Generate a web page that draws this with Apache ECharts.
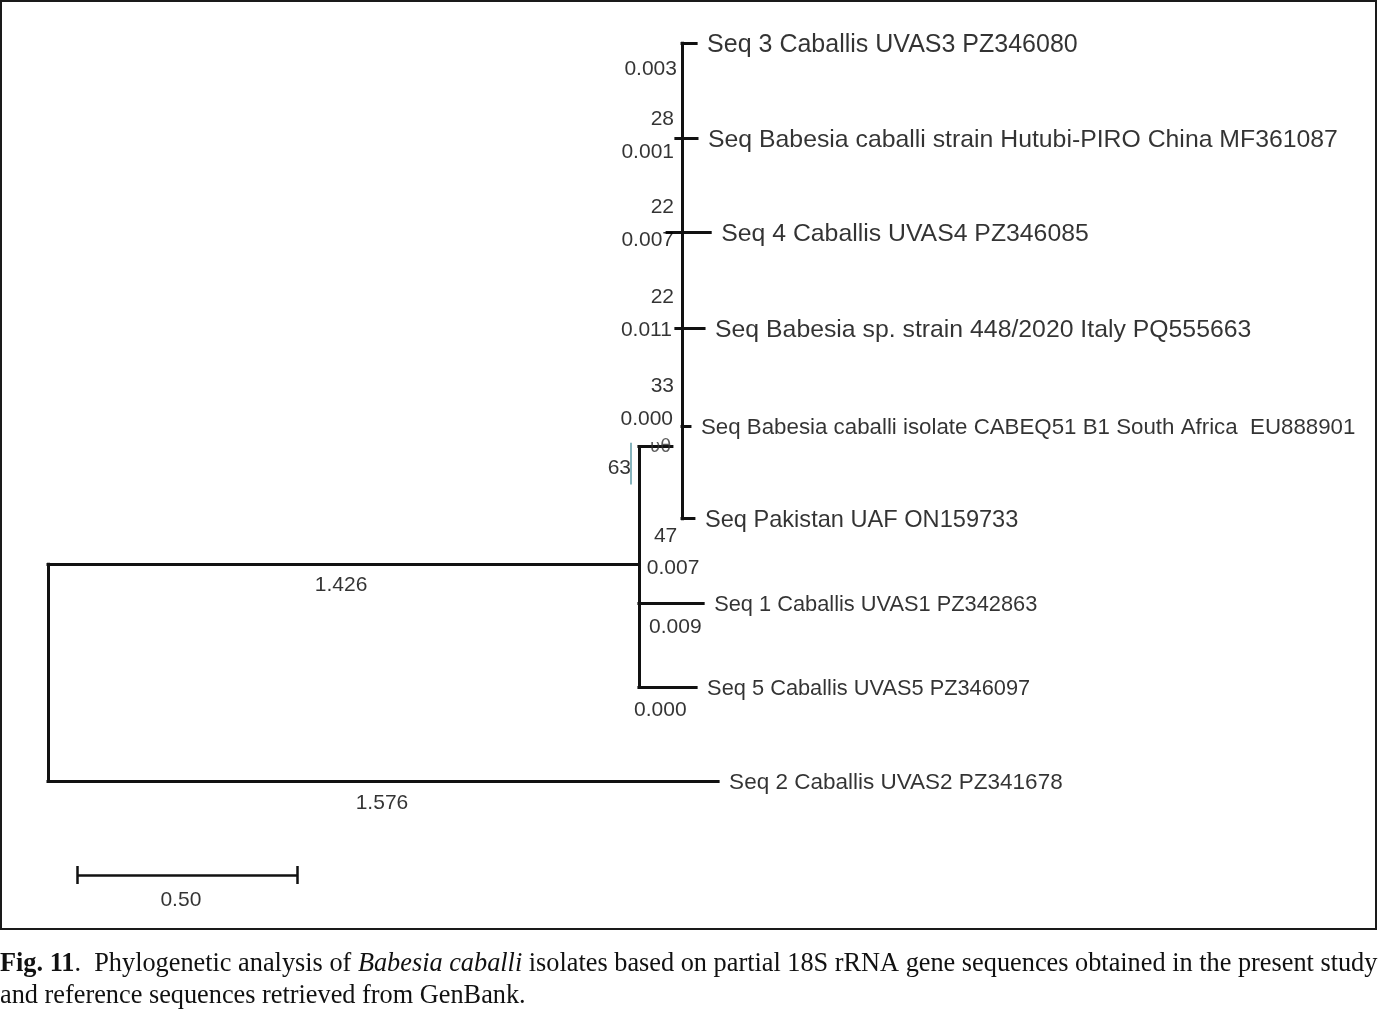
<!DOCTYPE html>
<html><head><meta charset="utf-8">
<script src="https://cdn.jsdelivr.net/npm/echarts@6/dist/echarts.min.js"></script>
<style>html,body{margin:0;padding:0;background:#fff}#c{width:1378px;height:1013px}</style>
</head><body><div id="c"></div>
<script>
// ---- Leaves (top to bottom) ----
const leafNames = [
  'Seq 3 Caballis UVAS3 PZ346080',
  'Seq Babesia caballi strain Hutubi-PIRO China MF361087',
  'Seq 4 Caballis UVAS4 PZ346085',
  'Seq Babesia sp. strain 448/2020 Italy PQ555663',
  'Seq Babesia caballi isolate CABEQ51 B1 South Africa  EU888901',
  'Seq Pakistan UAF ON159733',
  'Seq 1 Caballis UVAS1 PZ342863',
  'Seq 5 Caballis UVAS5 PZ346097',
  'Seq 2 Caballis UVAS2 PZ341678'
];
// drawn row of each leaf
const leafRow = [0, 1.0, 2.0, 3.01, 4.04, 5.02, 5.91, 6.80, 7.79];
// drawn depth (distance units) where each leaf branch starts / ends
const leafStartX = [1.441, 1.427, 1.407, 1.427, 1.441, 1.441, 1.343, 1.343, 0];
const leafEndX   = [1.473, 1.475, 1.505, 1.491, 1.459, 1.468, 1.489, 1.473, 1.523];

// ---- Internal nodes: root, ingroup, clade (63) ----
const nodeX       = [0, 1.343, 1.441];
const nodeRowFrom = [5.50, 4.26, 0];
const nodeRowTo   = [7.79, 6.80, 5.02];
const stemRow     = [null, 5.50, 4.26];
const stemFromX   = [null, 0, 1.343];
const stemToX     = [null, 1.343, 1.418];

// ---- Branch labels: text, depth, row, alignment ----
const branchLabelText = ['0.003','28','0.001','22','0.007','22','0.011','33','0.000','63','47','0.007','0.009','0.000','1.426','1.576'];
const branchLabelX    = [1.4295,1.4227,1.4227,1.4227,1.4227,1.4227,1.418,1.4227,1.4205,1.325,1.377,1.361,1.366,1.332,0.666,0.759];
const branchLabelRow  = [0.253,0.781,1.129,1.71,2.058,2.66,3.008,3.599,3.947,4.464,5.182,5.52,6.142,7.018,5.699,8.0];
const branchLabelAlign= ['right','right','right','right','right','right','right','right','right','right','left','left','left','left','center','center'];

// ---- Scale bar ----
const scaleBarStart = 0.066, scaleBarLength = 0.50, scaleBarRow = 8.78, scaleBarLabel = '0.50';
const scaleBarLabelX = 0.302, scaleBarLabelRow = 9.05;

const leafFont = [25, 24.8, 24.8, 24.8, 22.3, 23.6, 21.8, 21.8, 22.5];

// build segments
const segs = [];
for (let i = 0; i < leafNames.length; i++) segs.push([[leafStartX[i], leafRow[i]], [leafEndX[i], leafRow[i]]]);
for (let i = 0; i < nodeX.length; i++) {
  segs.push([[nodeX[i], nodeRowFrom[i]], [nodeX[i], nodeRowTo[i]]]);
  if (stemRow[i] !== null) segs.push([[stemFromX[i], stemRow[i]], [stemToX[i], stemRow[i]]]);
}
const bar = [
  [[scaleBarStart, scaleBarRow], [scaleBarStart + scaleBarLength, scaleBarRow]],
  [[scaleBarStart, scaleBarRow - 0.095], [scaleBarStart, scaleBarRow + 0.095]],
  [[scaleBarStart + scaleBarLength, scaleBarRow - 0.095], [scaleBarStart + scaleBarLength, scaleBarRow + 0.095]]
];

const FONT = 'Liberation Sans';
const INK = '#000';
const chart = echarts.init(document.getElementById('c'), null, {renderer: 'canvas'});
chart.setOption({
  animation: false,
  backgroundColor: '#fff',
  grid: {left: 48, width: 1320, top: 43, height: 9.5 * 94.75},
  xAxis: {type: 'value', min: 0, max: 3, show: false},
  yAxis: {type: 'value', min: 0, max: 9.5, inverse: true, show: false},
  graphic: [
    {type: 'rect', shape: {x: 1, y: 1, width: 1375, height: 928}, style: {fill: 'none', stroke: '#1a1a1a', lineWidth: 2}, z: 0},
    {type: 'text', left: 0, top: 951, style: {
      text: '{b|Fig. 11}{r|.  Phylogenetic analysis of }{i|Babesia caballi}{r| isolates based on partial 18S rRNA gene sequences obtained in the present study}',
      rich: {
        b: {fontFamily: 'Liberation Serif', fontWeight: 'bold', fontSize: 26.3, fill: '#111'},
        r: {fontFamily: 'Liberation Serif', fontSize: 26.3, fill: '#111'},
        i: {fontFamily: 'Liberation Serif', fontStyle: 'italic', fontSize: 26.3, fill: '#111'}
      }}},
    {type: 'text', left: 0, top: 983, style: {text: 'and reference sequences retrieved from GenBank.', fontFamily: 'Liberation Serif', fontSize: 26.3, fill: '#111'}}
  ],
  series: [
    {type: 'lines', coordinateSystem: 'cartesian2d', polyline: false, silent: true, z: 3,
     lineStyle: {color: '#111', width: 3, opacity: 1, cap: 'square'},
     data: segs.map(c => ({coords: c}))},
    {type: 'lines', coordinateSystem: 'cartesian2d', polyline: false, silent: true, z: 3,
     lineStyle: {color: '#111', width: 2.5, opacity: 1},
     data: bar.map(c => ({coords: c}))},
    {type: 'lines', coordinateSystem: 'cartesian2d', polyline: false, silent: true, z: 4,
     lineStyle: {color: '#5d9aa6', width: 1.5, opacity: 1},
     data: [{coords: [[1.325, 4.22], [1.325, 4.66]]}]},
    {type: 'scatter', symbolSize: 0, silent: true, clip: false, z: 5,
     data: leafNames.map((n, i) => ({value: [leafEndX[i], leafRow[i]],
       label: {show: true, formatter: n, position: [0, 0], offset: [11, 2], align: 'left', verticalAlign: 'middle',
               fontFamily: FONT, fontSize: leafFont[i], color: INK}}))},
    {type: 'scatter', symbolSize: 0, silent: true, clip: false, z: 5,
     data: branchLabelText.map((t, i) => ({value: [branchLabelX[i], branchLabelRow[i]],
       label: {show: true, formatter: t, position: [0, 0], offset: [0, 2], align: branchLabelAlign[i], verticalAlign: 'middle',
               fontFamily: FONT, fontSize: 21, color: INK}}))
       .concat([
         {value: [scaleBarLabelX, scaleBarLabelRow], label: {show: true, formatter: scaleBarLabel, position: [0, 0], align: 'center', verticalAlign: 'middle', fontFamily: FONT, fontSize: 21, color: INK}},
         {value: [1.368, 4.264], label: {show: true, formatter: 'υθ', position: [0, 0], align: 'left', verticalAlign: 'middle', fontFamily: 'DejaVu Sans', fontSize: 18, color: '#333'}}
       ])}
  ]
});
</script></body></html>
